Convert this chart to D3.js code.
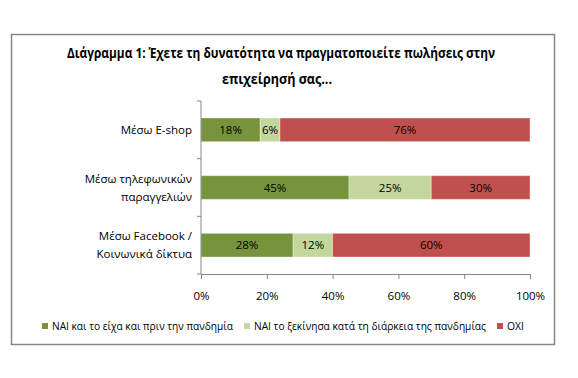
<!DOCTYPE html>
<html>
<head>
<meta charset="utf-8">
<script src="https://cdn.jsdelivr.net/npm/d3@7"></script>
<style>
  body { margin: 0; background: #fff; }
  text { font-family: "Open Sans", "Noto Sans", sans-serif; fill: #000; }
</style>
</head>
<body>
<div id="chart"></div>
<script>
// data
var categories = ["Μέσω E-shop", "Μέσω τηλεφωνικών παραγγελιών", "Μέσω Facebook / Κοινωνικά δίκτυα"];
var categoryLines = [["Μέσω E-shop"], ["Μέσω τηλεφωνικών", "παραγγελιών"], ["Μέσω Facebook /", "Κοινωνικά δίκτυα"]];
var seriesNames = ["ΝΑΙ  και το είχα και πριν την πανδημία", "ΝΑΙ  το ξεκίνησα κατά τη διάρκεια της πανδημίας", "ΟΧΙ"];
var beforeValues = [18, 45, 28];
var duringValues = [6, 25, 12];
var noValues = [76, 30, 60];
var xTicks = [0, 20, 40, 60, 80, 100];
var colors = ["#77933C", "#C3D69B", "#C0504D"];

var W = 578, H = 378;
var margin = { left: 201, right: 48, top: 101, bottom: 104 };
var width = W - margin.left - margin.right,
    height = H - margin.top - margin.bottom;

var svg = d3.select("#chart").append("svg")
    .attr("width", W)
    .attr("height", H);

// outer frame
svg.append("rect")
    .attr("x", 11.5).attr("y", 34.5)
    .attr("width", 543).attr("height", 310)
    .attr("fill", "none")
    .attr("stroke", "#868686")
    .attr("stroke-width", 1.5);

// title
var title = svg.append("text")
    .attr("text-anchor", "middle")
    .attr("font-weight", "bold")
    .attr("font-size", "13.5px");
title.append("tspan").attr("x", 281).attr("y", 58)
    .attr("textLength", 428).attr("lengthAdjust", "spacingAndGlyphs")
    .text("Διάγραμμα 1: Έχετε τη δυνατότητα να πραγματοποιείτε πωλήσεις στην");
title.append("tspan").attr("x", 277).attr("y", 84)
    .attr("textLength", 110).attr("lengthAdjust", "spacingAndGlyphs")
    .text("επιχείρησή σας...");

var g = svg.append("g")
    .attr("transform", "translate(" + margin.left + "," + margin.top + ")");

var x = d3.scaleLinear().domain([0, 100]).range([0, width]);
var y = d3.scaleBand().domain(categories).range([0, height])
    .paddingInner(0.59).paddingOuter(0.295);
var yOuter = d3.scaleBand().domain(categories).range([0, height]);

// stacked data
var rows = categories.map(function(c, i){
    return { cat: c, before: beforeValues[i], during: duringValues[i], no: noValues[i] };
});
var stack = d3.stack().keys(["before", "during", "no"]);
var layers = stack(rows);

var layer = g.selectAll(".layer")
    .data(layers)
    .enter().append("g")
    .attr("class", "layer")
    .attr("fill", function(d, i){ return colors[i]; });

layer.selectAll("rect")
    .data(function(d){ return d; })
    .enter().append("rect")
    .attr("x", function(d){ return x(d[0]); })
    .attr("y", function(d){ return y(d.data.cat); })
    .attr("width", function(d){ return x(d[1]) - x(d[0]); })
    .attr("height", y.bandwidth())
    .attr("stroke", "rgba(255,255,255,0.35)")
    .attr("stroke-width", 1);

layer.selectAll("text")
    .data(function(d){ return d; })
    .enter().append("text")
    .attr("x", function(d){ return (x(d[0]) + x(d[1])) / 2; })
    .attr("y", function(d){ return y(d.data.cat) + y.bandwidth() / 2; })
    .attr("dy", "0.35em")
    .attr("text-anchor", "middle")
    .attr("font-size", "11.5px")
    .text(function(d){ return (d[1] - d[0]) + "%"; });

// y axis line + ticks at band boundaries
g.append("line")
    .attr("x1", 0).attr("x2", 0)
    .attr("y1", 0).attr("y2", height)
    .attr("stroke", "#868686");
var yb = [0].concat(categories.map(function(c){ return yOuter(c) + yOuter.bandwidth(); }));
g.selectAll(".ytick").data(yb).enter().append("line")
    .attr("x1", -4).attr("x2", 0)
    .attr("y1", function(d){ return d; }).attr("y2", function(d){ return d; })
    .attr("stroke", "#868686");

// category labels
categoryLines.forEach(function(lines, i){
    var cy = y(categories[i]) + y.bandwidth() / 2;
    var t = g.append("text")
        .attr("text-anchor", "end")
        .attr("font-size", "11.5px");
    lines.forEach(function(l, j){
        t.append("tspan")
            .attr("x", -9)
            .attr("y", cy + (j - (lines.length - 1) / 2) * 18)
            .attr("dy", "0.35em")
            .text(l);
    });
});

// x axis
var xAxis = g.append("g")
    .attr("transform", "translate(0," + height + ")")
    .call(d3.axisBottom(x).tickValues(xTicks).tickSize(5).tickPadding(13)
        .tickFormat(function(d){ return d + "%"; }));
xAxis.select(".domain").attr("stroke", "#868686");
xAxis.selectAll(".tick line").attr("stroke", "#868686");
xAxis.selectAll(".tick text").attr("font-size", "11.5px").attr("font-family", null).attr("fill", "#000");

// legend
var legendX = [42, 244, 497];
var legendW = [181, 232, 17];
var legend = svg.selectAll(".legend")
    .data(seriesNames)
    .enter().append("g")
    .attr("class", "legend")
    .attr("transform", function(d, i){ return "translate(" + legendX[i] + ",323)"; });
legend.append("rect")
    .attr("width", 6).attr("height", 6)
    .attr("fill", function(d, i){ return colors[i]; });
legend.append("text")
    .attr("x", 10).attr("y", 3)
    .attr("dy", "0.35em")
    .attr("font-size", "10.5px")
    .attr("textLength", function(d, i){ return legendW[i]; })
    .attr("lengthAdjust", "spacingAndGlyphs")
    .text(function(d){ return d; });
</script>
</body>
</html>
